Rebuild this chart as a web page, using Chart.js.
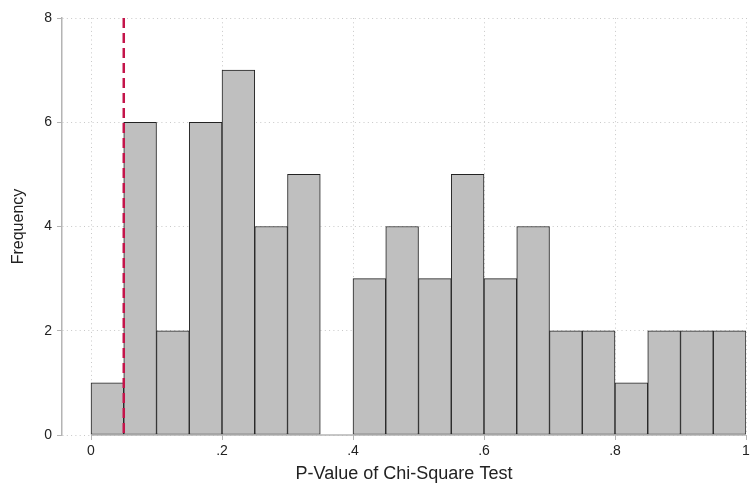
<!DOCTYPE html>
<html>
<head>
<meta charset="utf-8">
<script src="https://cdn.jsdelivr.net/npm/chart.js@4/dist/chart.umd.min.js"></script>
<style>
  html, body { margin: 0; padding: 0; background: #fff; }
  #wrap { width: 754px; height: 489px; }
</style>
</head>
<body>
<div id="wrap"><canvas id="chart"></canvas></div>
<script>
'use strict';

// bin centres (width .05) and counts
const binCentres = [
    0.025, 0.075, 0.125, 0.175, 0.225, 0.275, 0.325, 0.375, 0.425, 0.475,
    0.525, 0.575, 0.625, 0.675, 0.725, 0.775, 0.825, 0.875, 0.925, 0.975
];
const counts = [ 1, 6, 2, 6, 7, 4, 5, 0, 3, 4, 3, 5, 3, 4, 2, 2, 1, 2, 2, 2 ];

const xTicks = [ 0, 0.2, 0.4, 0.6, 0.8, 1 ];
const xTickLabels = [ '0', '.2', '.4', '.6', '.8', '1' ];
const yTicks = [ 0, 2, 4, 6, 8 ];
const cutoff = 0.05;

const axisGrey = '#b4b4b4';
const gridGrey = '#c8c8c8';
const font = 'Liberation Sans, Arial, sans-serif';

// x axis line from 0 to 1 and the dashed cutoff line
const extras = {
    id: 'extras',
    afterDatasetsDraw(chart) {
        const ctx = chart.ctx;
        const x = chart.scales.x;
        const y = chart.scales.y;
        ctx.save();
        ctx.strokeStyle = axisGrey;
        ctx.lineWidth = 1.5;
        ctx.beginPath();
        ctx.moveTo(x.getPixelForValue(0), y.getPixelForValue(0));
        ctx.lineTo(x.getPixelForValue(1), y.getPixelForValue(0));
        ctx.stroke();

        ctx.strokeStyle = '#c4144a';
        ctx.lineWidth = 2.5;
        ctx.setLineDash([ 10, 5 ]);
        const cx = x.getPixelForValue(cutoff);
        ctx.beginPath();
        ctx.moveTo(cx, y.getPixelForValue(8));
        ctx.lineTo(cx, y.getPixelForValue(0));
        ctx.stroke();
        ctx.restore();
    }
};

new Chart(document.getElementById('chart'), {
    type: 'bar',
    data: {
        datasets: [
            {
                data: binCentres.map((c, i) => ({ x: c, y: counts[i] })),
                backgroundColor: '#bfbfbf',
                borderColor: '#222',
                borderWidth: 1,
                borderSkipped: false,
                barPercentage: 1,
                categoryPercentage: 1
            }
        ]
    },
    options: {
        responsive: true,
        maintainAspectRatio: false,
        animation: false,
        layout: { padding: { top: 18, right: 8, left: 0, bottom: 0 } },
        plugins: {
            legend: { display: false },
            tooltip: { enabled: false }
        },
        scales: {
            x: {
                type: 'linear',
                offset: false,
                min: -0.0443,
                max: 1,
                afterBuildTicks(scale) {
                    scale.ticks = xTicks.map(v => ({ value: v }));
                },
                afterFit(scale) { scale.height = 54; },
                border: { display: false, dash: [ 1, 3.3 ] },
                grid: {
                    offset: false,
                    color: gridGrey,
                    tickColor: axisGrey,
                    tickBorderDash: [],
                    tickLength: 5,
                    lineWidth: 1
                },
                ticks: {
                    color: '#222',
                    font: { family: font, size: 14 },
                    padding: 3,
                    maxRotation: 0,
                    callback: (v) => xTickLabels[xTicks.indexOf(v)]
                },
                title: {
                    display: true,
                    text: 'P-Value of Chi-Square Test',
                    color: '#222',
                    font: { family: font, size: 18 },
                    padding: { top: 2, bottom: 4 }
                }
            },
            y: {
                min: 0,
                max: 8,
                afterBuildTicks(scale) {
                    scale.ticks = yTicks.map(v => ({ value: v }));
                },
                afterFit(scale) { scale.width = 62; },
                border: { display: true, color: axisGrey, width: 1.5, dash: [ 1, 3.3 ] },
                grid: {
                    color: gridGrey,
                    tickColor: axisGrey,
                    tickBorderDash: [],
                    tickLength: 5,
                    lineWidth: 1
                },
                ticks: {
                    color: '#222',
                    font: { family: font, size: 14 },
                    padding: 5
                },
                title: {
                    display: true,
                    text: 'Frequency',
                    color: '#222',
                    font: { family: font, size: 16 },
                    padding: { top: 9, bottom: 4 }
                }
            }
        }
    },
    plugins: [ extras ]
});
</script>
</body>
</html>
